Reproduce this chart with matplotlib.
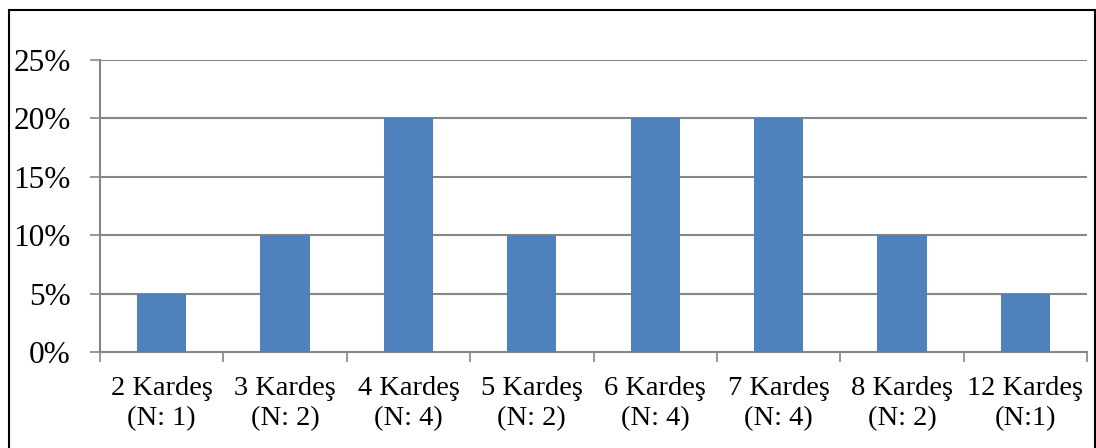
import matplotlib
matplotlib.use('Agg')
import matplotlib.pyplot as plt
from matplotlib.patches import Rectangle
import numpy as np

kardes = ['2 Kardeş', '3 Kardeş', '4 Kardeş', '5 Kardeş',
          '6 Kardeş', '7 Kardeş', '8 Kardeş', '12 Kardeş']
n_labels = ['(N: 1)', '(N: 2)', '(N: 4)', '(N: 2)',
            '(N: 4)', '(N: 4)', '(N: 2)', '(N:1)']
yuzde = [5, 10, 20, 10, 20, 20, 10, 5]
y_ticks = [0, 5, 10, 15, 20, 25]

plt.rcParams['font.family'] = ['Liberation Serif', 'DejaVu Serif']

W, H = 1096, 448
fig = plt.figure(figsize=(W / 100, H / 100), dpi=100)
ax = fig.add_axes([100 / W, (H - 352) / H, (1087 - 100) / W, (352 - 60) / H])

grid_c = '#868686'
x = np.arange(len(yuzde))
ax.bar(x, yuzde, width=0.40, color='#4F81BD', zorder=3)

ax.set_xlim(-0.5, len(yuzde) - 0.5)
ax.set_ylim(0, 25)
ax.set_yticks(y_ticks)
ax.set_yticklabels([f'{v}%' for v in y_ticks], fontsize=22.5)
for v in y_ticks[1:]:
    ax.axhline(v, color=grid_c, lw=1.5, zorder=1)

# category boundaries as major ticks, labels on minor ticks at the centres
ax.set_xticks(np.arange(-0.5, len(yuzde), 1.0))
ax.set_xticklabels([])
ax.set_xticks(x, minor=True)
ax.set_xticklabels([f'{a}\n{b}' for a, b in zip(kardes, n_labels)],
                   minor=True, fontsize=20.5, linespacing=1.3)
ax.tick_params(axis='x', which='major', length=7.2, width=1.2, color=grid_c, direction='out')
ax.tick_params(axis='x', which='minor', length=0, pad=17)
ax.tick_params(axis='y', length=7.2, width=1.2, color=grid_c, pad=14)

for s in ['top', 'right']:
    ax.spines[s].set_visible(False)
for s in ['left', 'bottom']:
    ax.spines[s].set_color(grid_c)
    ax.spines[s].set_linewidth(1.5)

fig.patches.append(Rectangle((9 / W, -0.05), (1095 - 9) / W, (H - 10) / H + 0.05,
                             transform=fig.transFigure, fill=False,
                             edgecolor='black', lw=1.5, clip_on=False))

fig.savefig('out.png', dpi=100)
